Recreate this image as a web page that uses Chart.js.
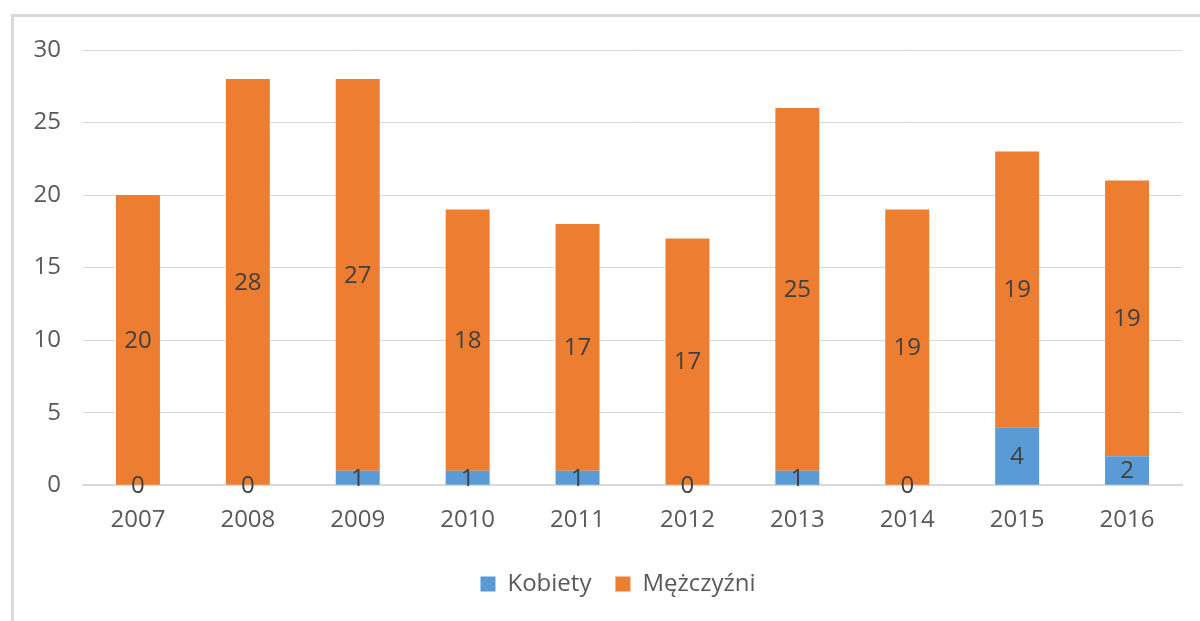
<!DOCTYPE html>
<html>
<head>
<meta charset="utf-8">
<script src="https://cdn.jsdelivr.net/npm/chart.js@4/dist/chart.umd.min.js"></script>
<style>
  html, body { margin: 0; padding: 0; background: #fff; }
  #wrap { position: relative; width: 1200px; height: 621px; }
  #frame { position: absolute; left: 11px; top: 14px; right: 0; bottom: 0;
           border-top: 3px solid #d9d9d9; border-left: 3px solid #d9d9d9; }
  canvas { position: absolute; left: 0; top: 0; }
</style>
</head>
<body>
<div id="wrap">
  <div id="frame"></div>
  <canvas id="myChart" width="1200" height="621"></canvas>
</div>
<script>
// years on the x axis
var years = ['2007', '2008', '2009', '2010', '2011', '2012', '2013', '2014', '2015', '2016'];
// counts per year
var kobiety = [0, 0, 1, 1, 1, 0, 1, 0, 4, 2];
var mezczyzni = [20, 28, 27, 18, 17, 17, 25, 19, 19, 19];
var yTicks = [0, 5, 10, 15, 20, 25, 30];

var fontName = "'Open Sans', sans-serif";

// draws the value in the middle of each bar piece, like Excel's data labels
var valueLabels = {
  id: 'valueLabels',
  afterDatasetsDraw: function (chart) {
    var ctx = chart.ctx;
    ctx.save();
    ctx.font = '24px ' + fontName;
    ctx.fillStyle = '#404040';
    ctx.textAlign = 'center';
    ctx.textBaseline = 'middle';
    chart.data.datasets.forEach(function (ds, i) {
      var meta = chart.getDatasetMeta(i);
      meta.data.forEach(function (bar, j) {
        var p = bar.getCenterPoint();
        ctx.fillText(String(ds.data[j]), p.x, p.y + 1);
      });
    });
    ctx.restore();
  }
};

// the legend sits a little right of the canvas centre in the original
var legendShift = {
  id: 'legendShift',
  afterLayout: function (chart) {
    chart.legend.left += 20;
    chart.legend.right += 20;
  }
};

var ctx = document.getElementById('myChart').getContext('2d');
var myChart = new Chart(ctx, {
  type: 'bar',
  data: {
    labels: years,
    datasets: [{
      label: 'Kobiety',
      data: kobiety,
      backgroundColor: '#5B9BD5',
      barPercentage: 1,
      categoryPercentage: 0.4
    }, {
      label: 'Mężczyźni',
      data: mezczyzni,
      backgroundColor: '#ED7D31',
      barPercentage: 1,
      categoryPercentage: 0.4
    }]
  },
  options: {
    responsive: false,
    animation: false,
    layout: { padding: { left: 14, top: 50, right: 18, bottom: 15 } },
    scales: {
      x: {
        stacked: true,
        grid: { display: false },
        border: { color: '#d9d9d9', width: 2 },
        ticks: { color: '#595959', font: { family: fontName, size: 24 }, padding: 13 }
      },
      y: {
        stacked: true,
        min: 0,
        max: 30,
        afterBuildTicks: function (scale) {
          scale.ticks = yTicks.map(function (v) { return { value: v }; });
        },
        afterFit: function (scale) { scale.width = 69; },
        grid: { color: '#d9d9d9', lineWidth: 1, drawTicks: false },
        border: { display: false },
        ticks: { color: '#595959', font: { family: fontName, size: 24 }, padding: 22 }
      }
    },
    plugins: {
      legend: {
        position: 'bottom',
        labels: {
          color: '#595959',
          font: { family: fontName, size: 24 },
          boxWidth: 15,
          boxHeight: 15,
          padding: 24
        }
      },
      tooltip: { enabled: false }
    }
  },
  plugins: [valueLabels, legendShift]
});
</script>
</body>
</html>
